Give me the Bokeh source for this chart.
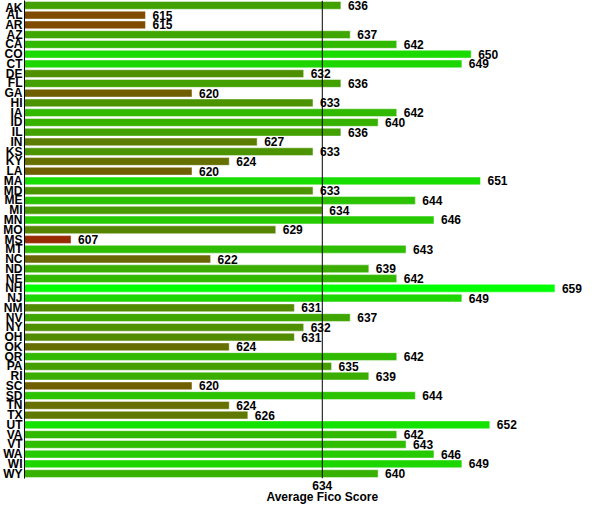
from bokeh.plotting import figure
from bokeh.models import ColumnDataSource, Span, FixedTicker
from bokeh.core.properties import value
from bokeh.embed import file_html
from bokeh.resources import INLINE

states = ["AK", "AL", "AR", "AZ", "CA", "CO", "CT", "DE", "FL", "GA", "HI", "IA", "ID", "IL",
          "IN", "KS", "KY", "LA", "MA", "MD", "ME", "MI", "MN", "MO", "MS", "MT", "NC", "ND",
          "NE", "NH", "NJ", "NM", "NV", "NY", "OH", "OK", "OR", "PA", "RI", "SC", "SD", "TN",
          "TX", "UT", "VA", "VT", "WA", "WI", "WY"]
scores = [636, 615, 615, 637, 642, 650, 649, 632, 636, 620, 633, 642, 640, 636,
          627, 633, 624, 620, 651, 633, 644, 634, 646, 629, 607, 643, 622, 639,
          642, 659, 649, 631, 637, 632, 631, 624, 642, 635, 639, 620, 644, 624,
          626, 652, 642, 643, 646, 649, 640]
average = 634
x_title = "Average Fico Score"

lo, hi = min(scores), max(scores)


def score_color(v):
    t = (hi - v) / (hi - lo)
    r = int(round(150 * t))
    g = int(round(255 - 213 * t))
    return "#%02x%02x00" % (r, g)


colors = [score_color(v) for v in scores]
labels = [str(v) for v in scores]

src = ColumnDataSource(dict(state=states, score=scores, color=colors, label=labels))

FONT = "Liberation Sans"

p = figure(width=587, height=506, y_range=list(reversed(states)), x_range=(602, 662.5),
           output_backend="svg", toolbar_location=None,
           min_border_left=0, min_border_right=0, min_border_top=0, min_border_bottom=0)
p.background_fill_color = "white"
p.border_fill_color = "white"
p.outline_line_color = None
p.grid.visible = False

p.hbar(y="state", left=602, right="score", height=0.8, fill_color="color",
       line_color="white", line_alpha=0.45, line_width=1, source=src)
p.text(x="score", y="state", text="label", x_offset=7, text_baseline="middle",
       text_font=value(FONT), text_font_style="bold", text_font_size="12px",
       text_color="black", source=src)

p.add_layout(Span(location=average, dimension="height", line_color="black", line_width=1))

# single tick at the average, with the axis title stacked under it
p.xaxis.ticker = FixedTicker(ticks=[average])
p.xaxis.major_label_overrides = {average: "%d\n%s" % (average, x_title)}
p.xaxis.axis_line_color = None
p.xaxis.major_tick_line_color = None
p.xaxis.minor_tick_line_color = None
p.xaxis.major_tick_in = 0
p.xaxis.major_tick_out = 0
p.xaxis.minor_tick_out = 0
p.xaxis.major_label_standoff = 0
p.xaxis.major_label_text_font = FONT
p.xaxis.major_label_text_font_style = "bold"
p.xaxis.major_label_text_font_size = "12px"
p.xaxis.major_label_text_line_height = 0.8
p.xaxis.major_label_text_color = "black"

p.yaxis.axis_line_color = "black"
p.yaxis.major_tick_line_color = None
p.yaxis.minor_tick_line_color = None
p.yaxis.major_tick_in = 0
p.yaxis.major_tick_out = 0
p.yaxis.major_label_standoff = 2
p.yaxis.major_label_text_font = FONT
p.yaxis.major_label_text_font_style = "bold"
p.yaxis.major_label_text_font_size = "12px"
p.yaxis.major_label_text_color = "black"
p.y_range.range_padding = 0

open("out.html", "w").write(file_html(p, INLINE))
